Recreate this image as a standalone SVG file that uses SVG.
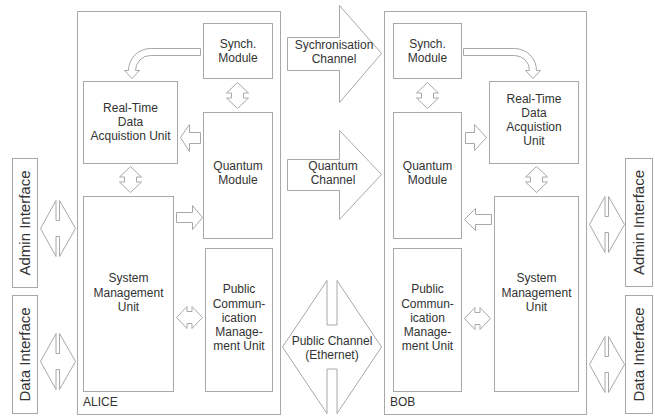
<svg xmlns="http://www.w3.org/2000/svg" width="655" height="416" viewBox="0 0 655 416">
<style>
.b{fill:#fff;stroke:#a8a8a8;stroke-width:1}
.a{fill:#fff;stroke:#a8a8a8;stroke-width:1;stroke-linejoin:miter}
text{font-family:"Liberation Sans",Arial,sans-serif;font-size:12px;fill:#333;text-anchor:middle}
.big{font-size:15px}
.lab{text-anchor:start}
</style>
<rect width="655" height="416" fill="#fff"/>
<g id="alice">
<rect class="b" x="77.5" y="11.5" width="203" height="403"/>
<text class="lab" x="83" y="406">ALICE</text>
</g>
<g id="bob">
<rect class="b" x="384.5" y="11.5" width="202" height="403"/>
<text class="lab" x="390" y="406">BOB</text>
</g>
<g id="connectors">
<!-- channels -->
<polygon class="a" points="287.5,37.5 339.5,37.5 339.5,5.5 381.5,53.5 339.5,102.5 339.5,70.5 287.5,70.5"/>
<polygon class="a" points="287.5,159.5 339.5,159.5 339.5,130.5 381.5,174.5 339.5,219.5 339.5,190.5 287.5,190.5"/>
<polygon class="a" points="337,280.5 381.5,347 337,413.5 337,369 327,369 327,413.5 282.5,347 327,280.5 327,325 337,325"/>
<!-- curved arrows -->
<path class="a" d="M200.5,48.5 L150.5,48.5 A22 22 0 0 0 128.5,70.5 L124.5,70.5 L132,78.5 L139.5,70.5 L135.5,70.5 A15 15 0 0 1 150.5,55.5 L200.5,55.5 Z"/>
<path class="a" d="M463.5,48.5 L514.5,48.5 A22 22 0 0 1 536.5,70.5 L540.5,70.5 L533,78.5 L525.5,70.5 L529.5,70.5 A15 15 0 0 0 514.5,55.5 L463.5,55.5 Z"/>
<!-- vertical double arrows -->
<polygon class="a" points="237.5,82.5 248.5,93 243.5,93 243.5,98 248.5,98 237.5,108.5 226.5,98 231.5,98 231.5,93 226.5,93"/>
<polygon class="a" points="130.5,166.5 141.5,177 136.5,177 136.5,182 141.5,182 130.5,192.5 119.5,182 124.5,182 124.5,177 119.5,177"/>
<polygon class="a" points="427.5,82.5 438.5,93 433.5,93 433.5,98 438.5,98 427.5,108.5 416.5,98 421.5,98 421.5,93 416.5,93"/>
<polygon class="a" points="536.5,166.5 547.5,177 542.5,177 542.5,182 547.5,182 536.5,192.5 525.5,182 530.5,182 530.5,177 525.5,177"/>
<!-- horizontal double arrows -->
<polygon class="a" points="176.5,317.5 187,306.5 187,311.5 192,311.5 192,306.5 202.5,317.5 192,328.5 192,323.5 187,323.5 187,328.5"/>
<polygon class="a" points="464.5,318.5 475,307.5 475,312.5 480,312.5 480,307.5 490.5,318.5 480,329.5 480,324.5 475,324.5 475,329.5"/>
<!-- single block arrows -->
<polygon class="a" points="180.5,137.5 189.5,124.5 189.5,132.5 200.5,132.5 200.5,143.5 189.5,143.5 189.5,151.5"/>
<polygon class="a" points="176.5,212.5 192.5,212.5 192.5,205.5 202.5,217.5 192.5,229.5 192.5,222.5 176.5,222.5"/>
<polygon class="a" points="464.5,219.5 475.5,208.5 475.5,214.5 491.5,214.5 491.5,224.5 475.5,224.5 475.5,230.5"/>
<polygon class="a" points="465.5,132.5 474.5,132.5 474.5,124.5 486.5,137.5 474.5,150.5 474.5,143.5 465.5,143.5"/>
<!-- interface diamonds -->
<polygon class="a" points="59.5,200.5 75.5,228.5 59.5,256.5 59.5,236.5 56,236.5 56,256.5 40.5,228.5 56,200.5 56,220.5 59.5,220.5"/>
<polygon class="a" points="59.5,333.5 75.5,361.5 59.5,389.5 59.5,369.5 56,369.5 56,389.5 40.5,361.5 56,333.5 56,353.5 59.5,353.5"/>
<polygon class="a" points="608.5,196.5 624.5,224.5 608.5,252.5 608.5,232.5 605,232.5 605,252.5 589.5,224.5 605,196.5 605,216.5 608.5,216.5"/>
<polygon class="a" points="608.5,336.5 624.5,364.5 608.5,392.5 608.5,372.5 605,372.5 605,392.5 589.5,364.5 605,336.5 605,356.5 608.5,356.5"/>
</g>
<g id="channel-labels">
<text x="334" y="49">Sychronisation</text>
<text x="334" y="63">Channel</text>
<text x="333" y="170">Quantum</text>
<text x="333" y="184">Channel</text>
<text x="332" y="345">Public Channel</text>
<text x="332" y="359">(Ethernet)</text>
</g>
<g id="alice-synch">
<rect class="b" x="203.5" y="23.5" width="69" height="55"/>
<text x="238" y="48">Synch.</text>
<text x="238" y="62">Module</text>
</g>
<g id="alice-rtdau">
<rect class="b" x="83.5" y="81.5" width="94" height="82"/>
<text x="130.5" y="112">Real-Time</text>
<text x="130.5" y="126">Data</text>
<text x="130.5" y="140">Acquistion Unit</text>
</g>
<g id="alice-quantum">
<rect class="b" x="203.5" y="112.5" width="69" height="126"/>
<text x="238" y="170">Quantum</text>
<text x="238" y="184">Module</text>
</g>
<g id="alice-smu">
<rect class="b" x="83.5" y="196.5" width="90" height="195"/>
<text x="128.5" y="282">System</text>
<text x="128.5" y="297">Management</text>
<text x="128.5" y="311">Unit</text>
</g>
<g id="alice-pcmu">
<rect class="b" x="205.5" y="248.5" width="67" height="143"/>
<text x="239" y="293">Public</text>
<text x="239" y="307.5">Commun-</text>
<text x="239" y="322">ication</text>
<text x="239" y="336">Manage-</text>
<text x="239" y="350">ment Unit</text>
</g>
<g id="bob-synch">
<rect class="b" x="393.5" y="23.5" width="68" height="55"/>
<text x="427.5" y="48">Synch.</text>
<text x="427.5" y="62">Module</text>
</g>
<g id="bob-quantum">
<rect class="b" x="393.5" y="112.5" width="68" height="126"/>
<text x="427.5" y="170">Quantum</text>
<text x="427.5" y="184">Module</text>
</g>
<g id="bob-pcmu">
<rect class="b" x="393.5" y="248.5" width="68" height="143"/>
<text x="427.5" y="293">Public</text>
<text x="427.5" y="307.5">Commun-</text>
<text x="427.5" y="322">ication</text>
<text x="427.5" y="336">Manage-</text>
<text x="427.5" y="350">ment Unit</text>
</g>
<g id="bob-rtdau">
<rect class="b" x="489.5" y="81.5" width="89" height="82"/>
<text x="534" y="103">Real-Time</text>
<text x="534" y="117">Data</text>
<text x="534" y="131">Acquistion</text>
<text x="534" y="145">Unit</text>
</g>
<g id="bob-smu">
<rect class="b" x="494.5" y="196.5" width="84" height="195"/>
<text x="536.5" y="282">System</text>
<text x="536.5" y="297">Management</text>
<text x="536.5" y="311">Unit</text>
</g>
<g id="alice-admin">
<rect class="b" x="12.5" y="158.5" width="25" height="129"/>
<text class="big" transform="translate(30,223) rotate(-90)">Admin Interface</text>
</g>
<g id="alice-data">
<rect class="b" x="12.5" y="295.5" width="25" height="118"/>
<text class="big" transform="translate(30,354.5) rotate(-90)">Data Interface</text>
</g>
<g id="bob-admin">
<rect class="b" x="625.5" y="158.5" width="27" height="128"/>
<text class="big" transform="translate(644,222.5) rotate(-90)">Admin Interface</text>
</g>
<g id="bob-data">
<rect class="b" x="625.5" y="295.5" width="27" height="118"/>
<text class="big" transform="translate(644,354.5) rotate(-90)">Data Interface</text>
</g>
</svg>
